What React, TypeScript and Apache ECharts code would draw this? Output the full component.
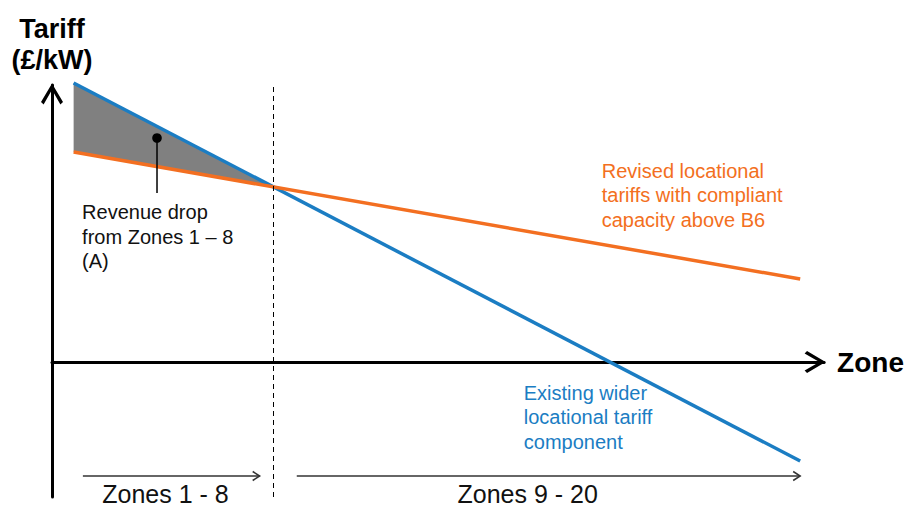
import React, { useEffect, useRef } from 'react';
import * as echarts from 'echarts';

// ---- data (schematic units) ----
const lineZones = [2.8, 96.9];            // x (zone position) of line ends
const existingTariff = [27.9, -9.9];       // blue: existing wider locational tariff
const revisedTariff = [21.0, 8.3];         // orange: revised locational tariffs
const boundaryZone = 28.6;                 // boundary between zone 8 and zone 9
const zoneRangeStart = [4.0, 31.7];
const zoneRangeEnd = [26.9, 96.9];
const zoneLabels = ['Zones 1 - 8', 'Zones 9 - 20'];
const zoneLabelX = [14.7, 61.6];
const zoneArrowTariff = -11.4;
const zoneLabelTariff = -13.15;
const dotPoint = [13.6, 22.4];
const dotLeaderEnd = 16.9;
const noteTexts = [
  'Revised locational\ntariffs with compliant\ncapacity above B6',
  'Existing wider\nlocational tariff\ncomponent',
  'Revenue drop\nfrom Zones 1 \u2013 8\n(A)',
];
const noteX = [71.2, 61.1, 3.9];
const noteY = [20.35, -1.85, 16.2];

const BLUE = '#1B7DC3';
const ORANGE = '#F36F21';
const FONT = 'Arial, "Liberation Sans", Helvetica, sans-serif';
const noteColors = [ORANGE, BLUE, '#111111'];

const chevron = 'path://M11,0 L22,18.6 L19.4,21 L11,6.2 L2.6,21 L0,18.6 Z';

function crossing() {
  const sb = (existingTariff[1] - existingTariff[0]) / (lineZones[1] - lineZones[0]);
  const so = (revisedTariff[1] - revisedTariff[0]) / (lineZones[1] - lineZones[0]);
  const dx = (revisedTariff[0] - existingTariff[0]) / (sb - so);
  return [lineZones[0] + dx, existingTariff[0] + sb * dx];
}

export default function App() {
  const ref = useRef<HTMLDivElement>(null);
  useEffect(() => {
    if (!ref.current) return;
    const chart = echarts.init(ref.current, undefined, { renderer: 'svg' });
    const cross = crossing();
    const shade = [
      [lineZones[0], existingTariff[0]],
      cross,
      [lineZones[0], revisedTariff[0]],
    ];
    const axisCommon = {
      type: 'value' as const,
      axisTick: { show: false },
      axisLabel: { show: false },
      splitLine: { show: false },
      nameLocation: 'end' as const,
      nameTextStyle: { fontFamily: FONT, fontSize: 27, fontWeight: 'bold' as const, color: '#000' },
      axisLine: {
        show: true,
        onZero: true,
        symbol: ['none', chevron],
        symbolSize: [22, 21],
        symbolOffset: [0, -9],
        lineStyle: { color: '#000', width: 3 },
      },
    };
    chart.setOption({
      animation: false,
      backgroundColor: '#ffffff',
      grid: { left: 52, right: 81, top: 85, bottom: 12 },
      xAxis: {
        ...axisCommon,
        min: 0,
        max: 100,
        name: 'Zone',
        nameGap: 13,
        nameTextStyle: { ...axisCommon.nameTextStyle, fontSize: 28 },
      },
      yAxis: {
        ...axisCommon,
        min: -13.5,
        max: 27.7,
        name: 'Tariff\n(£/kW)',
        nameGap: 10,
        nameTextStyle: { ...axisCommon.nameTextStyle, lineHeight: 31, align: 'center' },
      },
      series: [
        {
          type: 'custom',
          name: 'Revenue drop',
          silent: true,
          clip: false,
          z: 1,
          data: shade,
          encode: { x: 0, y: 1 },
          renderItem: (params: any, api: any) => {
            if (params.dataIndex !== 0) return null;
            return {
              type: 'polygon',
              shape: { points: shade.map((p) => api.coord(p)) },
              style: { fill: '#808080' },
            };
          },
        },
        {
          type: 'line',
          name: 'Existing',
          symbol: 'none',
          clip: false,
          z: 3,
          data: lineZones.map((x, i) => [x, existingTariff[i]]),
          lineStyle: { color: BLUE, width: 3.5 },
          markLine: {
            silent: true,
            symbol: ['none', 'none'],
            label: { show: false },
            lineStyle: { color: '#000', width: 1, type: [5, 4] },
            data: [{ xAxis: boundaryZone }],
          },
        },
        {
          type: 'line',
          name: 'Revised',
          symbol: 'none',
          clip: false,
          z: 4,
          data: lineZones.map((x, i) => [x, revisedTariff[i]]),
          lineStyle: { color: ORANGE, width: 3.5 },
        },
        {
          type: 'custom',
          name: 'dot',
          silent: true,
          clip: false,
          z: 5,
          data: [[dotPoint[0], dotPoint[1], dotLeaderEnd]],
          encode: { x: 0, y: 1 },
          renderItem: (params: any, api: any) => {
            const p = api.coord([api.value(0), api.value(1)]);
            const q = api.coord([api.value(0), api.value(2)]);
            return {
              type: 'group',
              children: [
                { type: 'line', shape: { x1: p[0], y1: p[1], x2: q[0], y2: q[1] }, style: { stroke: '#000', lineWidth: 1.5 } },
                { type: 'circle', shape: { cx: p[0], cy: p[1], r: 4.8 }, style: { fill: '#000' } },
              ],
            };
          },
        },
        {
          type: 'custom',
          name: 'zones',
          silent: true,
          clip: false,
          z: 5,
          data: zoneRangeStart.map((s, i) => [s, zoneRangeEnd[i], zoneArrowTariff, zoneLabelX[i], zoneLabelTariff, i]),
          encode: { x: [0, 1], y: 2 },
          renderItem: (params: any, api: any) => {
            const a = api.coord([api.value(0), api.value(2)]);
            const b = api.coord([api.value(1), api.value(2)]);
            const t = api.coord([api.value(3), api.value(4)]);
            const idx = api.value(5);
            return {
              type: 'group',
              children: [
                { type: 'line', shape: { x1: a[0], y1: a[1], x2: b[0], y2: b[1] }, style: { stroke: '#333', lineWidth: 1.5 } },
                {
                  type: 'polyline',
                  shape: { points: [[b[0] - 7, b[1] - 4.5], [b[0], b[1]], [b[0] - 7, b[1] + 4.5]] },
                  style: { stroke: '#333', lineWidth: 1.5, fill: 'none' },
                },
                {
                  type: 'text',
                  x: t[0],
                  y: t[1],
                  style: { text: zoneLabels[idx], fontFamily: FONT, fontSize: 25, fill: '#111', align: 'center', verticalAlign: 'middle' },
                },
              ],
            };
          },
        },
        {
          type: 'custom',
          name: 'notes',
          silent: true,
          clip: false,
          z: 6,
          data: noteX.map((x, i) => [x, noteY[i], i]),
          encode: { x: 0, y: 1 },
          renderItem: (params: any, api: any) => {
            const p = api.coord([api.value(0), api.value(1)]);
            const idx = api.value(2);
            return {
              type: 'text',
              x: p[0],
              y: p[1],
              style: {
                text: noteTexts[idx],
                fontFamily: FONT,
                fontSize: 20,
                lineHeight: 24.5,
                fill: noteColors[idx],
                align: 'left',
                verticalAlign: 'top',
              },
            };
          },
        },
      ],
    });
    return () => chart.dispose();
  }, []);
  return (
    <div
      ref={ref}
      style={{ position: 'fixed', left: 0, top: 0, width: 907, height: 509, background: '#fff' }}
    />
  );
}
